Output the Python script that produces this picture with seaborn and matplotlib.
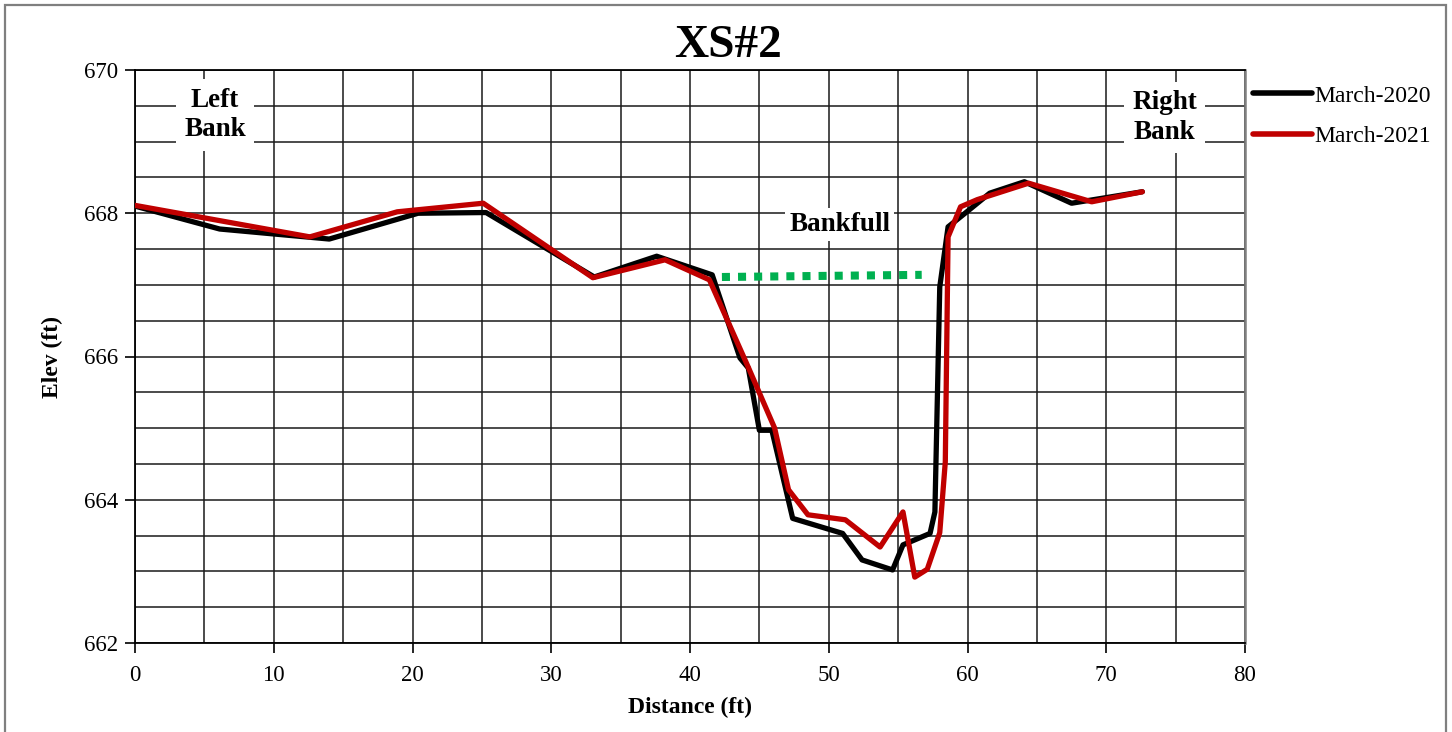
import matplotlib
matplotlib.use("Agg")
import matplotlib.pyplot as plt
import seaborn as sns
import pandas as pd
from matplotlib.patches import Rectangle
from matplotlib.ticker import MultipleLocator

# ---- data ----
dist_2020 = [0.0, 6.1, 14.0, 20.4, 25.3, 33.1, 37.6, 41.6, 43.6, 44.2, 45.0, 45.9,
             47.4, 51.0, 52.4, 54.6, 55.35, 57.3, 57.65, 58.0, 58.6, 59.95, 61.6,
             64.1, 67.5, 72.6]
elev_2020 = [668.10, 667.78, 667.64, 668.00, 668.01, 667.11, 667.40, 667.14, 665.98,
             665.84, 664.97, 664.97, 663.74, 663.53, 663.16, 663.02, 663.37, 663.53,
             663.83, 666.97, 667.81, 668.02, 668.28, 668.44, 668.14, 668.30]

dist_2021 = [0.0, 12.6, 18.9, 25.1, 33.0, 38.2, 41.4, 44.2, 46.1, 47.1, 48.5, 51.2,
             53.7, 55.35, 56.2, 57.1, 58.0, 58.4, 58.6, 59.5, 60.7, 64.4, 68.95, 72.6]
elev_2021 = [668.11, 667.67, 668.02, 668.14, 667.10, 667.35, 667.07, 665.85, 665.00,
             664.14, 663.79, 663.72, 663.34, 663.83, 662.92, 663.03, 663.54, 664.53,
             667.67, 668.09, 668.19, 668.42, 668.16, 668.30]

bankfull_x = [42.3, 56.7]
bankfull_y = [667.11, 667.14]

series_names = ["March-2020", "March-2021"]
series_colors = ["#000000", "#C00000"]

title = "XS#2"
x_label = "Distance (ft)"
y_label = "Elev (ft)"

df = pd.concat([
    pd.DataFrame({"Distance": dist_2020, "Elev": elev_2020, "Survey": series_names[0]}),
    pd.DataFrame({"Distance": dist_2021, "Elev": elev_2021, "Survey": series_names[1]}),
], ignore_index=True)

sns.set_theme(style="white")
plt.rcParams["font.family"] = ["Liberation Serif", "DejaVu Serif"]
plt.rcParams["text.color"] = "black"
plt.rcParams["axes.labelcolor"] = "black"
plt.rcParams["xtick.color"] = "black"
plt.rcParams["ytick.color"] = "black"

fig = plt.figure(figsize=(14.52, 7.32), dpi=100)
ax = fig.add_axes([135 / 1452, 1 - 643 / 732, (1245 - 135) / 1452, (643 - 70) / 732])

# figure border
fig.patches.append(Rectangle((5 / 1452, -0.05), (1446 - 5) / 1452, 1.05 - 5 / 732,
                             transform=fig.transFigure, fill=False,
                             edgecolor="#7f7f7f", linewidth=1.6, zorder=0))

sns.lineplot(data=df, x="Distance", y="Elev", hue="Survey",
             palette=dict(zip(series_names, series_colors)), sort=False,
             estimator=None, linewidth=3.8, ax=ax, zorder=4)

ax.plot(bankfull_x, bankfull_y, linestyle=(0, (1.0, 1.0)), color="#00B050",
        linewidth=5.8, dash_capstyle="butt", zorder=3)

ax.set_xlim(0, 80)
ax.set_ylim(662, 670)
ax.xaxis.set_major_locator(MultipleLocator(10))
ax.xaxis.set_minor_locator(MultipleLocator(5))
ax.yaxis.set_major_locator(MultipleLocator(2))
ax.yaxis.set_minor_locator(MultipleLocator(0.5))
ax.grid(which="both", color="#1a1a1a", linewidth=1.1)
ax.set_axisbelow(True)
for side in ["left", "bottom", "top"]:
    ax.spines[side].set_color("black")
    ax.spines[side].set_linewidth(1.3)
ax.spines["right"].set_color("#808080")
ax.spines["right"].set_linewidth(1.8)
ax.tick_params(which="major", direction="out", length=7, width=1.2, color="black",
               labelsize=16.5, left=True, bottom=True)
ax.tick_params(axis="x", which="major", pad=9)
ax.tick_params(axis="y", which="major", pad=5)
ax.tick_params(which="minor", length=0)

fig.text(728 / 1452, 1 - 46 / 732, title, ha="center", va="center",
         fontsize=34, fontweight="bold")
ax.set_xlabel(x_label, fontsize=17, fontweight="bold", labelpad=8)
ax.set_ylabel(y_label, fontsize=17, fontweight="bold", labelpad=15)

box = dict(facecolor="white", edgecolor="none", pad=6)
ax.text(5.77, 669.37, "Left\nBank", ha="center", va="center", fontsize=19.5,
        fontweight="bold", bbox=box, zorder=5, linespacing=1.25)
ax.text(74.2, 669.34, "Right\nBank", ha="center", va="center", fontsize=19.5,
        fontweight="bold", bbox=box, zorder=5, linespacing=1.25)
ax.text(50.8, 667.84, "Bankfull", ha="center", va="center", fontsize=19.5,
        fontweight="bold", bbox=dict(facecolor="white", edgecolor="none", pad=3), zorder=5)

leg = ax.legend(loc="upper left", bbox_to_anchor=(1253 / 1452, 1 - 85 / 732),
                bbox_transform=fig.transFigure, frameon=False, fontsize=17,
                handlelength=2.5, handletextpad=0.1, labelspacing=0.8,
                borderaxespad=0, borderpad=0)
for line in leg.get_lines():
    line.set_linewidth(4)

fig.savefig("out.png", dpi=100)
